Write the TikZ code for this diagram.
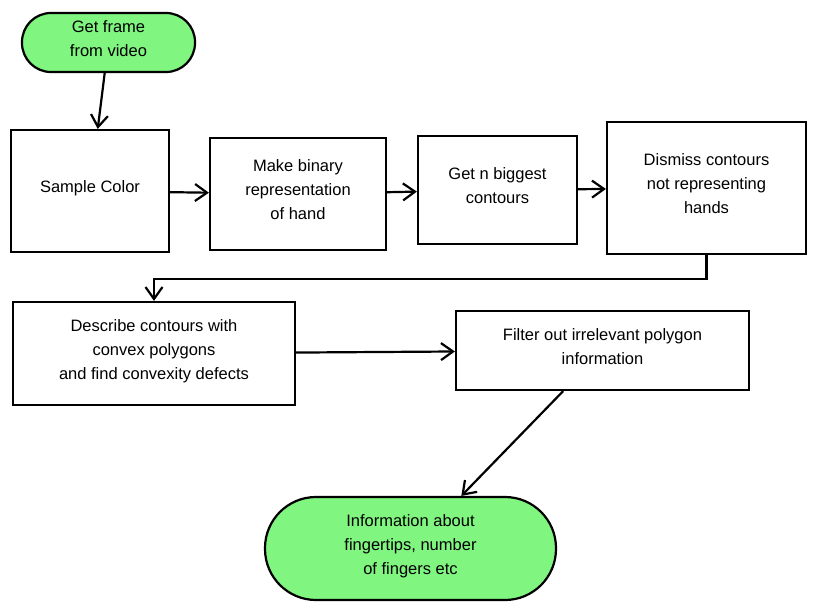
\documentclass[tikz,border=0pt]{standalone}
\usepackage{fontspec}
\setmainfont{Liberation Sans}
\usetikzlibrary{arrows.meta}
\definecolor{termgreen}{RGB}{128,245,128}

\begin{document}
\begin{tikzpicture}[x=1pt,y=-1pt,->,>={Straight Barb[length=12pt,width=17pt]},line width=2.2pt,
  every node/.style={font=\fontsize{16.5}{24}\selectfont,align=center,inner sep=0pt,text depth=8pt},
  step box/.style={draw,rectangle,fill=white},
  term box/.style={draw,rectangle,fill=termgreen}]
  \useasboundingbox (0,0) rectangle (820,605);
  \node[term box,minimum width=173pt,minimum height=59pt,rounded corners=29pt] (start) at (108.5,42.5) {Get frame\\from video};
  \node[step box,minimum width=158pt,minimum height=122pt] (sample) at (90,191) {Sample Color};
  \node[step box,minimum width=176pt,minimum height=112pt] (binary) at (298,194) {Make binary\\representation\\of hand};
  \node[step box,minimum width=159pt,minimum height=108pt] (biggest) at (497.5,190) {Get n biggest\\contours};
  \node[step box,minimum width=199pt,minimum height=132pt] (dismiss) at (706.5,188) {Dismiss contours\\not representing\\hands};
  \node[step box,minimum width=282pt,minimum height=103pt] (describe) at (154,353.5) {Describe contours with\\convex polygons\\and find convexity defects};
  \node[step box,minimum width=293pt,minimum height=79pt] (filter) at (602.5,350.5) {Filter out irrelevant polygon\\information};
  \node[term box,minimum width=291pt,minimum height=103pt,rounded corners=51pt] (info) at (410.5,548.5) {Information about\\fingertips, number\\of fingers etc};

\path
  (start) edge (sample)
  (sample) edge (binary)
  (binary) edge (biggest)
  (biggest) edge (dismiss)
  (describe) edge (filter)
  (filter) edge (info)
;
  \draw (dismiss.south) -- ++(0,24) -| (describe.north);
\end{tikzpicture}
\end{document}
